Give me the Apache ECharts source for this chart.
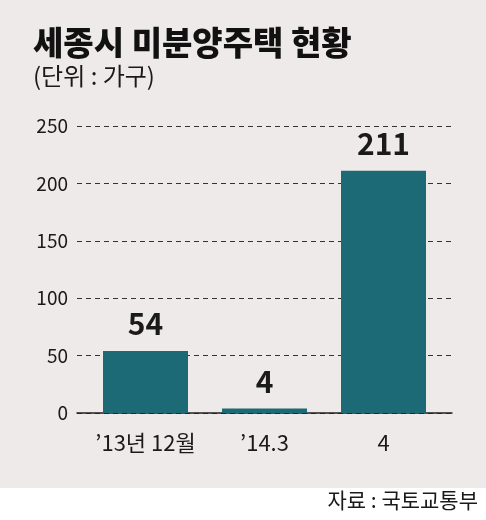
<!DOCTYPE html>
<html><head><meta charset="utf-8">
<script src="https://cdn.jsdelivr.net/npm/echarts@6/dist/echarts.min.js"></script>
<style>html,body{margin:0;padding:0;background:#fff}#c{width:486px;height:520px}</style>
</head><body><div id="c"></div>
<script>
const categories = ["’13년 12월", "’14.3", "4"];
const values = [54, 4, 211];
const yTicks = [0, 50, 100, 150, 200, 250];

const chart = echarts.init(document.getElementById('c'), null, {renderer: 'canvas'});
const narrow = "'Liberation Sans Narrow', 'Noto Sans CJK KR', sans-serif";
chart.setOption({
  backgroundColor: '#ffffff',
  graphic: [
    {type: 'rect', left: 0, top: 0, z: -10, shape: {width: 486, height: 488}, style: {fill: '#efeaea'}},
    {type: 'text', left: 33, top: 26, style: {text: '세종시 미분양주택 현황', font: '900 33px "Noto Sans CJK KR"', fill: '#111'}},
    {type: 'text', left: 33, top: 64, style: {text: '(단위 : 가구)', font: '400 24px "Noto Sans CJK KR"', fill: '#1a1a1a'}},
    {type: 'text', right: 8, top: 490, style: {text: '자료 : 국토교통부', font: '400 21px "Noto Sans CJK KR"', fill: '#1a1a1a'}}
  ],
  grid: [
    {left: 77, right: 34, top: 126, height: 287},
    {left: 86, right: 43, top: 126, height: 287}
  ],
  xAxis: [
    {type: 'category', gridIndex: 0, data: ['a'], show: true,
     axisLine: {show: true, lineStyle: {color: '#222', width: 1.5}},
     axisTick: {show: false}, axisLabel: {show: false}},
    {type: 'category', gridIndex: 1, data: categories,
     axisLine: {show: false}, axisTick: {show: false},
     axisLabel: {color: '#1a1a1a', fontSize: 22, fontFamily: narrow, margin: 19, interval: 0}}
  ],
  yAxis: [
    {type: 'value', gridIndex: 0, min: 0, max: 250, interval: 50,
     axisLine: {show: false}, axisTick: {show: false},
     axisLabel: {color: '#1a1a1a', fontSize: 19, fontFamily: narrow, margin: 9,
       formatter: v => yTicks.includes(v) ? String(v) : ''},
     splitLine: {show: true, lineStyle: {color: '#333', type: [5, 4], width: 1}}},
    {type: 'value', gridIndex: 1, min: 0, max: 250, interval: 50, show: false, splitLine: {show: false}}
  ],
  series: [{
    type: 'bar', xAxisIndex: 1, yAxisIndex: 1, data: values, barWidth: 85,
    itemStyle: {color: '#1d6a77'}, z: 5,
    label: {show: true, position: 'top', distance: 12, color: '#1a1a1a',
      fontSize: 30, fontWeight: 'bold', fontFamily: narrow}
  }]
});
</script></body></html>
